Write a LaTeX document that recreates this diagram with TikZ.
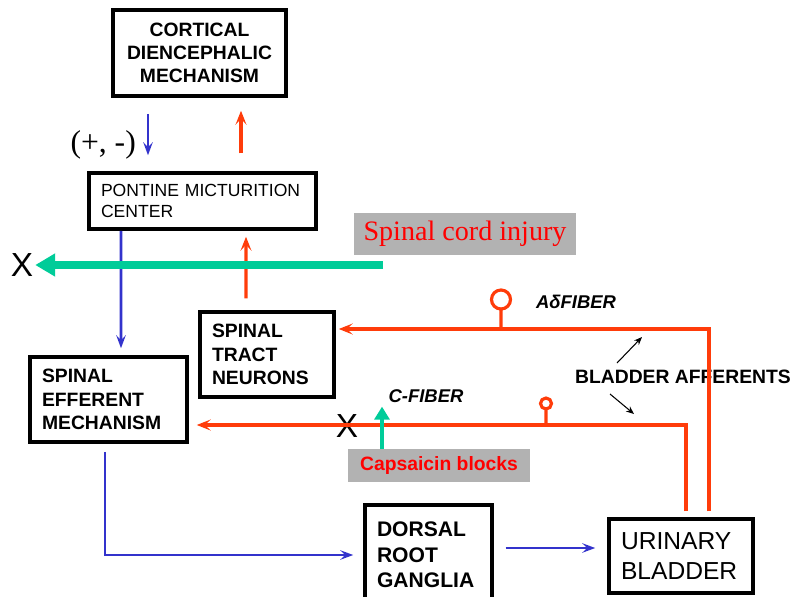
\documentclass[tikz,border=0pt]{standalone}
\usepackage{fontspec}
\setmainfont{Liberation Sans}
\newfontfamily\timesfont{Liberation Serif}
\usetikzlibrary{arrows.meta,calc}
\definecolor{effblue}{RGB}{51,51,204}
\definecolor{affred}{RGB}{255,60,10}
\definecolor{blockgreen}{RGB}{0,204,153}
\definecolor{labelgray}{RGB}{178,178,178}

\begin{document}
\begin{tikzpicture}[x=0.02cm,y=-0.02cm,
	box/.style={draw,line width=2pt,inner xsep=0.24cm,inner ysep=0pt,align=left,
	  font=\bfseries\fontsize{11}{13.2}\selectfont},
	efarrow/.style={draw=effblue,line width=1.5pt,-{Stealth[length=2.6mm,width=1.9mm,inset=1mm]}},
	afline/.style={draw=affred,line width=1.8pt},
	afarrow/.style={afline,-{Stealth[length=2.8mm,width=2.2mm,inset=1.2mm]}},
	blockarrow/.style={draw=blockgreen,line width=4.4pt,-{Triangle[length=4mm,width=4.4mm]}},
	blockthin/.style={draw=blockgreen,line width=2.3pt,-{Triangle[length=2.6mm,width=3mm]}},
	graylabel/.style={fill=labelgray,inner sep=0pt,text=red},
	cut/.style={font=\fontsize{19}{22}\selectfont,inner sep=1pt}]
	\useasboundingbox (0,0) rectangle (795,596);

	%boxes
	\node[box,text width=3.1cm,inner xsep=0.18cm,minimum height=1.72cm,align=center] (cortical) at (199.5,53) {CORTICAL\\DIENCEPHALIC\\MECHANISM};
	\node[box,text width=4.06cm,minimum height=1.12cm,font=\fontsize{10}{12}\selectfont] (pontine) at (202.5,201) {PONTINE MICTURITION\\CENTER};
	\node[box,text width=2.2cm,minimum height=1.7cm] (tract) at (267,354.5) {SPINAL\\TRACT\\NEURONS};
	\node[box,text width=2.66cm,minimum height=1.7cm] (efferent) at (108.5,399.5) {SPINAL\\EFFERENT\\MECHANISM};
	\node[box,text width=2.06cm,minimum height=2cm,font=\bfseries\fontsize{12}{14.6}\selectfont] (drg) at (428.5,555) {DORSAL\\ROOT\\GANGLIA};
	\node[box,text width=2.4cm,minimum height=1.48cm,font=\fontsize{14}{16.8}\selectfont] (bladder) at (681,556) {URINARY\\BLADDER};

	%labels
	\node[anchor=east,font=\timesfont\fontsize{18}{21}\selectfont] (sign) at (142,145) {(+, -)};
	\node[graylabel,minimum width=4.44cm,minimum height=0.84cm,font=\timesfont\fontsize{16}{19}\selectfont] (injury) at (465,234) {Spinal cord injury};
	\node[graylabel,minimum width=3.64cm,minimum height=0.66cm,font=\bfseries\fontsize{11}{13}\selectfont] (capsaicin) at (439,465.5) {Capsaicin blocks};
	\node[cut] (cutpmc) at (22,265) {X};
	\node[cut] (cutc) at (347,426) {X};
	\node[font=\bfseries\itshape\fontsize{10.5}{12}\selectfont] (adelta) at (576,302) {AδFIBER};
	\node[font=\bfseries\itshape\fontsize{10.5}{12}\selectfont] (cfiber) at (426,396) {C-FIBER};
	\node[font=\bfseries\fontsize{11}{13}\selectfont] (afferents) at (683,377) {BLADDER AFFERENTS};

	%efferent path
	\draw[efarrow] ($(cortical.south)+(-51.5,16)$) -- ($(pontine.north)+(-54.5,-16)$); %cortex to PMC
	\draw[efarrow] ($(pontine.south)+(-81.5,0)$) -- ($(efferent.north)+(12.5,-7)$); %PMC down
	\draw[efarrow] ($(efferent.south)+(-3.5,8)$) |- ($(drg.west)+(-10,0)$); %to DRG
	\draw[efarrow] ($(drg.east)+(12,-7)$) -- ($(bladder.west)+(-12,-8)$); %to bladder

	%afferent path
	\draw[afarrow] ($(pontine.north)+(38.5,-18)$) -- ($(cortical.south)+(41.5,13)$); %PMC up
	\draw[afarrow] ($(tract.north)+(-21,-12)$) -- ($(pontine.south)+(43.5,6)$); %tract up
	\draw[afarrow] ($(bladder.north)+(28,-6)$) |- ($(tract.east)+(3,-25.5)$); %A-delta
	\draw[afarrow] ($(bladder.north)+(5,-6)$) |- ($(efferent.east)+(8,25.5)$); %C fiber
	\draw[afline] (501,329) -- (501,309) ++(0,-9.5) circle[radius=0.19cm]; %A-delta ending
	\draw[afline] (546,425) -- (546,409) ++(0,-5.5) circle[radius=0.11cm]; %C ending

	%afferent pointers
	\draw[line width=0.6pt,-{Stealth[length=1.6mm,width=1.3mm]}] ($(afferents)+(-66,-14)$) -- ($(afferents)+(-41,-40)$);
	\draw[line width=0.6pt,-{Stealth[length=1.6mm,width=1.3mm]}] ($(afferents)+(-73,17)$) -- ($(afferents)+(-49,37)$);

	%blocks
	\coordinate (injuryend) at (383,265);
	\draw[blockarrow] (injuryend) -- (cutpmc.east); %injury cut
	\draw[blockthin] ($(capsaicin.north)+(-57,0)$) -- ($(capsaicin.north)+(-57,-42)$); %capsaicin

\end{tikzpicture}
\end{document}
